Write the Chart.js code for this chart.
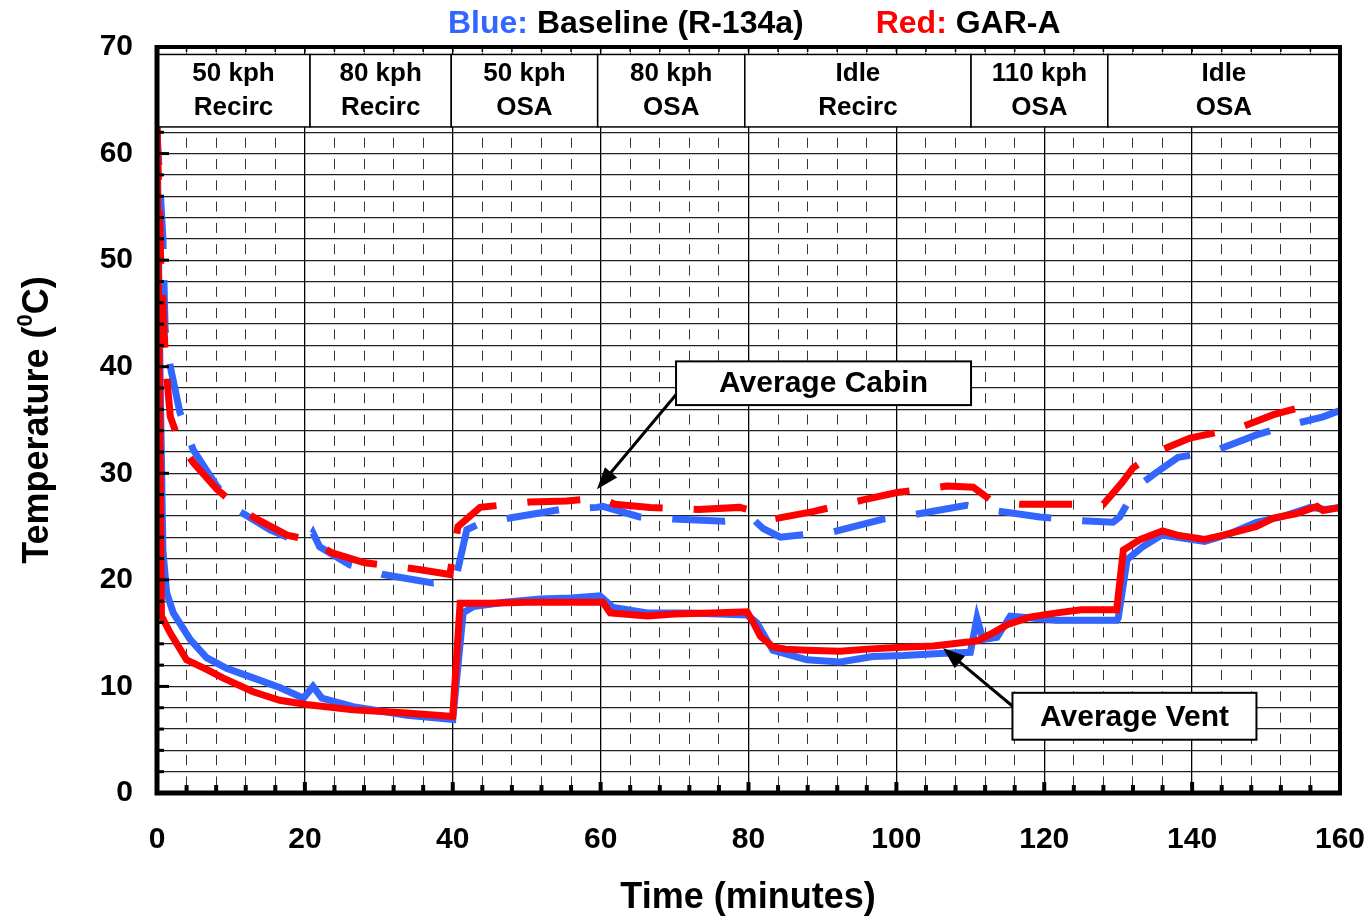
<!DOCTYPE html>
<html>
<head>
<meta charset="utf-8">
<title>Average Cabin and Vent Temperature</title>
<script src="https://cdn.jsdelivr.net/npm/chart.js@4.4.1/dist/chart.umd.min.js"></script>
<style>
  html, body { margin: 0; padding: 0; background: #fff; }
</style>
</head>
<body>
<canvas id="tempChart" width="1370" height="918"></canvas>
<script>
// ---- data (time in minutes, temperature in deg C) ----
const redVentTime = [0, 0.3, 0.6, 1.8, 4.0, 6.7, 8.9, 13, 16.6, 20.2, 26.5, 33.8, 39.6, 40, 41, 45, 50, 55, 60.3, 61.3, 66.3, 70, 75, 79.8, 80.5, 81.6, 83.3, 85, 87.9, 92.4, 96, 101.4, 105, 110, 111, 113, 115, 118, 121.7, 125, 129.8, 130.7, 133, 136, 138, 141.7, 144.2, 148.7, 151, 154, 156.9, 157.7, 160];
const redVent     = [62.5, 40, 16.6, 15.0, 12.5, 11.6, 10.8, 9.5, 8.7, 8.3, 7.8, 7.5, 7.2, 7.2, 17.8, 17.8, 17.9, 17.9, 17.9, 16.9, 16.6, 16.8, 16.9, 17.0, 16.2, 14.7, 13.7, 13.5, 13.4, 13.3, 13.5, 13.7, 13.8, 14.2, 14.3, 15.0, 15.8, 16.5, 16.9, 17.2, 17.2, 22.8, 23.8, 24.6, 24.2, 23.8, 24.2, 25.0, 25.8, 26.2, 26.9, 26.5, 26.8];

const blueVentTime = [0, 0.4, 0.8, 1.3, 2.2, 4.5, 6.7, 9.4, 13, 16.6, 19.8, 21.1, 22.3, 26.5, 33.8, 40, 41.4, 42.8, 47, 51.8, 56, 59.9, 61.7, 66.3, 72, 79.8, 81.1, 83.3, 87.9, 92.4, 96.8, 101, 105.9, 110, 110.9, 111.7, 113.6, 115.4, 117.1, 121.7, 129.8, 130, 131.2, 133.3, 135.9, 138, 141.7, 145, 148.7, 152, 156, 158, 160];
const blueVent     = [62, 40, 22.8, 18.8, 16.9, 14.4, 12.7, 11.7, 10.8, 9.9, 8.9, 10.0, 8.9, 8.1, 7.3, 6.9, 16.9, 17.5, 17.9, 18.2, 18.3, 18.5, 17.4, 16.9, 16.9, 16.7, 16.0, 13.4, 12.5, 12.3, 12.8, 12.9, 13.1, 13.2, 16.4, 14.4, 14.6, 16.6, 16.5, 16.2, 16.2, 16.4, 21.9, 23.1, 24.2, 24.0, 23.6, 24.3, 25.4, 25.9, 26.8, 26.6, 26.8];

const redCabinTime = [0, 0.5, 1.2, 1.8, 3, 4.9, 8.1, 11, 13.5, 17.6, 20.3, 23.8, 28.1, 35.2, 39.6, 40.7, 43.7, 50.4, 55.4, 59.9, 61.9, 66.7, 73.2, 78.8, 81.1, 83.3, 88.7, 95.5, 100.1, 106.8, 110.4, 113.1, 116.7, 128, 130.5, 132, 135.2, 139.7, 146.5, 151, 157.5];
const redCabin     = [62.5, 50, 40, 35.3, 33, 31.0, 28.5, 26.8, 25.7, 24.2, 23.8, 22.5, 21.6, 21.0, 20.5, 25.0, 26.8, 27.3, 27.4, 27.7, 27.1, 26.8, 26.6, 26.8, 26.4, 25.7, 26.4, 27.5, 28.2, 28.8, 28.7, 27.3, 27.1, 27.1, 29.1, 30.5, 32.0, 33.3, 34.3, 35.5, 36.7];

const blueCabinTime = [0, 0.8, 1.1, 1.8, 3.1, 4.9, 8.1, 11, 15.3, 17.6, 20.5, 21.1, 22, 26.1, 30.6, 37.3, 40, 40.6, 41.9, 43.4, 47.7, 54.5, 59.5, 60.3, 65.3, 69.8, 76.8, 80.6, 82, 84.3, 87, 91.4, 98.2, 102.2, 109.5, 112.3, 119.4, 123.9, 129.3, 130.2, 132.5, 135.2, 138.1, 142.7, 148.7, 153.6, 157.7, 160];
const blueCabin     = [62, 52, 43.5, 40, 35.7, 32.2, 28.8, 26.5, 24.7, 24.0, 23.6, 24.4, 23.1, 21.4, 20.5, 19.7, 19.8, 20.7, 24.7, 25.2, 25.8, 26.6, 26.8, 26.9, 25.9, 25.7, 25.5, 25.7, 24.8, 24.0, 24.2, 24.5, 25.7, 26.1, 27.0, 26.6, 25.9, 25.6, 25.4, 25.9, 28.7, 30.1, 31.5, 32.0, 33.6, 34.6, 35.3, 35.9];

// test segments along the top of the plot
const modeTop    = ['50 kph', '80 kph', '50 kph', '80 kph', 'Idle', '110 kph', 'Idle'];
const modeBottom = ['Recirc', 'Recirc', 'OSA', 'OSA', 'Recirc', 'OSA', 'OSA'];
const modeEdges  = [0, 20.7, 39.8, 59.6, 79.5, 110.1, 128.6, 160];

const xTicks = [0, 20, 40, 60, 80, 100, 120, 140, 160];
const yTicks = [0, 10, 20, 30, 40, 50, 60, 70];

const FONT = "'Liberation Sans', Arial, Helvetica, sans-serif";
const BLUE = '#3366ff';
const RED = '#ff0000';

function pts(xs, ys) {
  return xs.map((x, i) => ({x: x, y: ys[i]}));
}

function arrow(ctx, x1, y1, x2, y2) {
  const a = Math.atan2(y2 - y1, x2 - x1);
  const hl = 22, hw = 8;
  ctx.save();
  ctx.strokeStyle = '#000';
  ctx.fillStyle = '#000';
  ctx.lineWidth = 3;
  ctx.beginPath();
  ctx.moveTo(x1, y1);
  ctx.lineTo(x2 - Math.cos(a) * hl * 0.8, y2 - Math.sin(a) * hl * 0.8);
  ctx.stroke();
  ctx.beginPath();
  ctx.moveTo(x2, y2);
  ctx.lineTo(x2 - Math.cos(a) * hl - Math.sin(a) * hw, y2 - Math.sin(a) * hl + Math.cos(a) * hw);
  ctx.lineTo(x2 - Math.cos(a) * hl + Math.sin(a) * hw, y2 - Math.sin(a) * hl - Math.cos(a) * hw);
  ctx.closePath();
  ctx.fill();
  ctx.restore();
}

function labelBox(ctx, x1, y1, x2, y2, text) {
  ctx.save();
  ctx.fillStyle = '#fff';
  ctx.fillRect(x1, y1, x2 - x1, y2 - y1);
  ctx.strokeStyle = '#000';
  ctx.lineWidth = 2;
  ctx.strokeRect(x1, y1, x2 - x1, y2 - y1);
  ctx.fillStyle = '#000';
  ctx.font = 'bold 30px ' + FONT;
  ctx.textAlign = 'center';
  ctx.textBaseline = 'middle';
  ctx.fillText(text, (x1 + x2) / 2, (y1 + y2) / 2 + 1);
  ctx.restore();
}

// frame, tick marks, mode boxes, callouts and titles
const decorations = {
  id: 'decorations',
  afterDatasetsDraw(chart) {
    const ctx = chart.ctx;
    const xs = chart.scales.x, ys = chart.scales.y;
    const a = chart.chartArea;

    // inner tick marks
    ctx.save();
    ctx.strokeStyle = '#000';
    ctx.lineWidth = 3;
    for (let v = 0; v <= 70; v += 2) {
      const y = ys.getPixelForValue(v);
      const len = v % 10 === 0 ? 12 : 7;
      ctx.beginPath();
      ctx.moveTo(a.left, y);
      ctx.lineTo(a.left + len, y);
      ctx.stroke();
    }
    for (let t = 0; t <= 160; t += 4) {
      const x = xs.getPixelForValue(t);
      const len = t % 20 === 0 ? 11 : 8;
      ctx.lineWidth = 4;
      ctx.beginPath();
      ctx.moveTo(x, a.bottom);
      ctx.lineTo(x, a.bottom - len);
      ctx.stroke();
      ctx.lineWidth = 1.5;
      ctx.beginPath();
      ctx.moveTo(x, a.top);
      ctx.lineTo(x, a.top + 5);
      ctx.stroke();
    }
    ctx.restore();

    // mode boxes across the top
    ctx.save();
    const bTop = ys.getPixelForValue(69.3), bBot = ys.getPixelForValue(62.5);
    for (let i = 0; i < modeTop.length; i++) {
      const x1 = xs.getPixelForValue(modeEdges[i]);
      const x2 = xs.getPixelForValue(modeEdges[i + 1]);
      ctx.fillStyle = '#fff';
      ctx.fillRect(x1, bTop, x2 - x1, bBot - bTop);
      ctx.strokeStyle = '#000';
      ctx.lineWidth = 1.5;
      ctx.strokeRect(x1, bTop, x2 - x1, bBot - bTop);
      ctx.fillStyle = '#000';
      ctx.font = 'bold 26px ' + FONT;
      ctx.textAlign = 'center';
      ctx.textBaseline = 'middle';
      ctx.fillText(modeTop[i], (x1 + x2) / 2, bTop + 19);
      ctx.fillText(modeBottom[i], (x1 + x2) / 2, bTop + 53);
    }
    ctx.restore();

    // callouts
    const cx1 = xs.getPixelForValue(70.2), cx2 = xs.getPixelForValue(110.1);
    const cy1 = ys.getPixelForValue(40.5), cy2 = ys.getPixelForValue(36.4);
    arrow(ctx, cx1 + 2, ys.getPixelForValue(37.6), xs.getPixelForValue(59.5), ys.getPixelForValue(28.5));
    labelBox(ctx, cx1, cy1, cx2, cy2, 'Average Cabin');

    const vx1 = xs.getPixelForValue(115.7), vx2 = xs.getPixelForValue(148.7);
    const vy1 = ys.getPixelForValue(9.4), vy2 = ys.getPixelForValue(5.0);
    arrow(ctx, vx1 + 2, ys.getPixelForValue(8.0), xs.getPixelForValue(106.3), ys.getPixelForValue(13.6));
    labelBox(ctx, vx1, vy1, vx2, vy2, 'Average Vent');

    // plot frame
    ctx.save();
    ctx.strokeStyle = '#000';
    ctx.lineWidth = 4;
    ctx.strokeRect(a.left, a.top, a.right - a.left, a.bottom - a.top);
    ctx.lineWidth = 5;
    ctx.beginPath();
    ctx.moveTo(a.left, a.top - 2);
    ctx.lineTo(a.left, a.bottom);
    ctx.lineTo(a.right + 2, a.bottom);
    ctx.stroke();
    ctx.restore();
  },
  afterDraw(chart) {
    const ctx = chart.ctx;
    ctx.save();
    ctx.textBaseline = 'middle';
    ctx.textAlign = 'left';

    // legend-style title
    ctx.font = 'bold 32px ' + FONT;
    const parts = [['Blue: ', BLUE], ['Baseline (R-134a)', '#000'], ['Red: ', RED], ['GAR-A', '#000']];
    let x = 448;
    parts.forEach((p, i) => {
      ctx.fillStyle = p[1];
      ctx.fillText(p[0], x, 24);
      x += ctx.measureText(p[0]).width + (i === 1 ? 72 : 0);
    });

    // x axis title
    ctx.fillStyle = '#000';
    ctx.font = 'bold 36px ' + FONT;
    ctx.textAlign = 'center';
    ctx.fillText('Time (minutes)', 748, 898);

    // y axis title with superscript zero
    ctx.translate(38, 420);
    ctx.rotate(-Math.PI / 2);
    const big = 'bold 36px ' + FONT, small = 'bold 22px ' + FONT;
    ctx.font = big;
    const w1 = ctx.measureText('Temperature (').width;
    const w3 = ctx.measureText('C)').width;
    ctx.font = small;
    const w2 = ctx.measureText('0').width;
    const sx = -(w1 + w2 + w3) / 2;
    ctx.textAlign = 'left';
    ctx.font = big;
    ctx.fillText('Temperature (', sx, 0);
    ctx.font = small;
    ctx.fillText('0', sx + w1, -12);
    ctx.font = big;
    ctx.fillText('C)', sx + w1 + w2, 0);
    ctx.restore();
  }
};

const ctx = document.getElementById('tempChart').getContext('2d');
const tempChart = new Chart(ctx, {
  type: 'line',
  data: {
    datasets: [
      {label: 'GAR-A vent', data: pts(redVentTime, redVent), borderColor: RED, borderWidth: 7, order: 0},
      {label: 'GAR-A cabin', data: pts(redCabinTime, redCabin), borderColor: RED, borderWidth: 7, borderDash: [53, 31], borderDashOffset: 0, order: 1},
      {label: 'Baseline vent', data: pts(blueVentTime, blueVent), borderColor: BLUE, borderWidth: 7, order: 2},
      {label: 'Baseline cabin', data: pts(blueCabinTime, blueCabin), borderColor: BLUE, borderWidth: 7, borderDash: [53, 31], borderDashOffset: 20, order: 3}
    ]
  },
  options: {
    responsive: false,
    animation: false,
    events: [],
    layout: {padding: {top: 47, right: 30, left: 0, bottom: 0}},
    elements: {
      point: {radius: 0},
      line: {tension: 0, fill: false, borderCapStyle: 'butt', borderJoinStyle: 'miter'}
    },
    plugins: {
      legend: {display: false},
      tooltip: {enabled: false},
      title: {display: false}
    },
    scales: {
      x: {
        type: 'linear',
        min: 0, max: 160,
        afterFit(scale) {
          scale.height = 125;
          scale.paddingLeft = 0;
          scale.paddingRight = 0;
        },
        afterBuildTicks(scale) {
          const t = [];
          for (let v = 0; v <= 160; v += 4) t.push({value: v});
          scale.ticks = t;
        },
        ticks: {
          autoSkip: false, maxRotation: 0, padding: 29, color: '#000',
          font: {family: FONT, size: 30, weight: 'bold'},
          callback: v => xTicks.includes(v) ? String(v) : ''
        },
        grid: {
          drawTicks: false,
          color: c => (c.tick && c.tick.value % 20 === 0) ? '#000' : '#333',
          lineWidth: c => (c.tick && c.tick.value % 20 === 0) ? 1.3 : 1
        },
        border: {
          display: false,
          dash: c => (c.tick && c.tick.value % 20 !== 0) ? [10, 11.29] : [],
          dashOffset: 15.7
        }
      },
      y: {
        min: 0, max: 70,
        afterFit(scale) {
          scale.width = 157;
          scale.paddingTop = 0;
          scale.paddingBottom = 0;
        },
        afterBuildTicks(scale) {
          const t = [];
          for (let v = 0; v <= 70; v += 2) t.push({value: v});
          scale.ticks = t;
        },
        ticks: {
          autoSkip: false, padding: 24, color: '#000',
          font: {family: FONT, size: 30, weight: 'bold'},
          callback: v => yTicks.includes(v) ? String(v) : ''
        },
        grid: {drawTicks: false, color: '#222', lineWidth: 1.2},
        border: {display: false}
      }
    }
  },
  plugins: [decorations]
});
</script>
</body>
</html>
